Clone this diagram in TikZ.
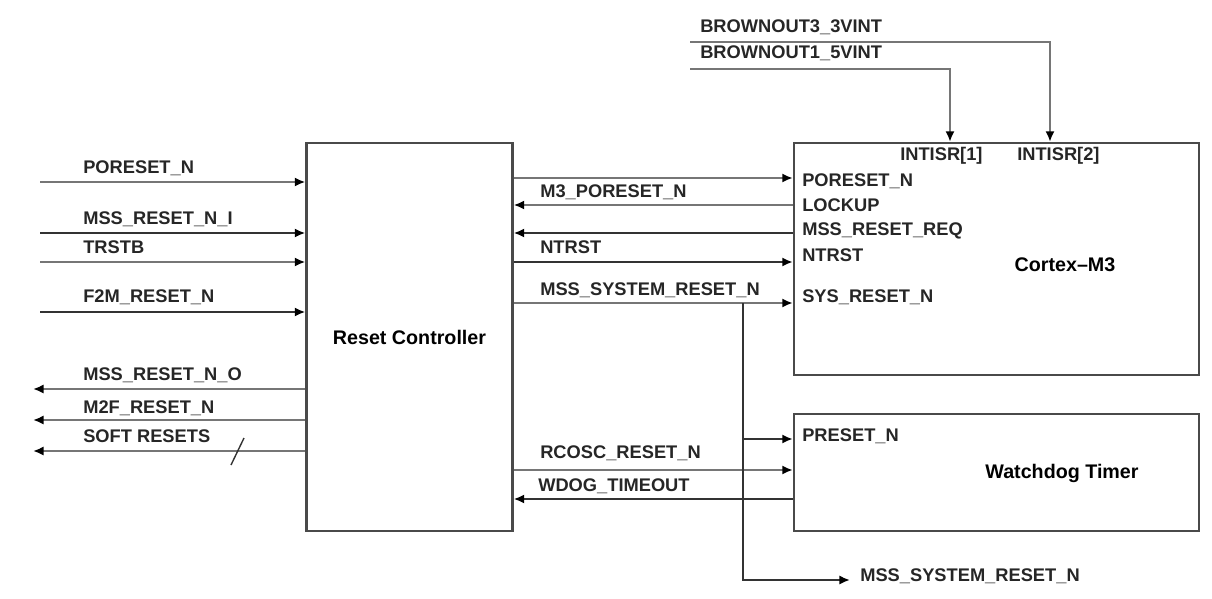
\documentclass[tikz,border=0pt]{standalone}
\usepackage{fontspec}
\setmainfont{Liberation Sans}
\usetikzlibrary{arrows.meta}
\definecolor{linegray}{HTML}{767676}
\definecolor{linedark}{HTML}{333333}
\definecolor{boxgray}{HTML}{4A4A4A}
\begin{document}
\begin{tikzpicture}[x=0.025cm,y=-0.025cm,
  >={Latex[length=7.5pt,width=6.5pt,color=black]},
  block/.style={draw=boxgray, line width=1.6pt, rectangle, inner sep=0pt},
  title/.style={inner sep=0pt, font=\fontsize{14}{16}\selectfont\bfseries},
  sig/.style={draw=linegray, line width=1.5pt},
  sigd/.style={draw=linedark, line width=1.5pt},
  lbl/.style={anchor=west, inner sep=0pt, text=black!85, font=\fontsize{13}{15}\selectfont\bfseries}]
\useasboundingbox (0,0) rectangle (1212,599);

% blocks
\node[block, minimum width=5.15cm, minimum height=9.7cm, font=\fontsize{14}{16}\selectfont\bfseries] (rc) at (409.5,337) {Reset Controller};
\node[block, minimum width=10.125cm, minimum height=5.8cm] (m3) at (996.5,259) {};
\node[block, minimum width=10.125cm, minimum height=2.925cm] (wd) at (996.5,472.5) {};
\node[title] (m3name) at (1065,265) {Cortex--M3};
\node[title] (wdname) at (1062,473) {Watchdog Timer};

% ports of the Cortex-M3 and the watchdog
\node[lbl] (pint1) at (900,156) {INTISR[1]};
\node[lbl] (pint2) at (1017,156) {INTISR[2]};
\node[lbl] (ppor) at (802,181) {PORESET\_N};
\node[lbl] (plock) at (802,205) {LOCKUP};
\node[lbl] (preq) at (802,231) {MSS\_RESET\_REQ};
\node[lbl] (pntrst) at (802,255) {NTRST};
\node[lbl] (psys) at (802,297) {SYS\_RESET\_N};
\node[lbl] (ppreset) at (802,436) {PRESET\_N};

% free ends
\coordinate (inpor) at (40,182);
\coordinate (inmss) at (40,233);
\coordinate (intrst) at (40,262);
\coordinate (inf2m) at (40,312);
\coordinate (outmss) at (33,389);
\coordinate (outm2f) at (33,420);
\coordinate (outsoft) at (33,451);
\coordinate (bo3) at (690,42);
\coordinate (bo1) at (690,69);
\coordinate (int1) at (950,0);
\coordinate (int2) at (1050,0);
\coordinate (ym3por) at (0,178);
\coordinate (ylock) at (0,205);
\coordinate (yreq) at (0,233);
\coordinate (yntrst) at (0,262);
\coordinate (ysys) at (0,303);
\coordinate (br) at (743,303);
\coordinate (brpre) at (743,439);
\coordinate (yrcosc) at (0,470);
\coordinate (ywdog) at (0,499);
\coordinate (outsys) at (850,580);

% inputs and outputs on the left
\draw[sig,->] (inpor) -- (inpor -| rc.west);
\draw[sigd,->] (inmss) -- (inmss -| rc.west);
\draw[sig,->] (intrst) -- (intrst -| rc.west);
\draw[sigd,->] (inf2m) -- (inf2m -| rc.west);
\draw[sig,->] (outmss -| rc.west) -- (outmss);
\draw[sig,->] (outm2f -| rc.west) -- (outm2f);
\draw[sig,->] (outsoft -| rc.west) -- (outsoft);
\draw[sigd, line width=1pt] (231,465) -- (244,438);

\node[lbl] (lpor) at (83,168) {PORESET\_N};
\node[lbl] (lmssi) at (83,219) {MSS\_RESET\_N\_I};
\node[lbl] (ltrst) at (83,247) {TRSTB};
\node[lbl] (lf2m) at (83,297) {F2M\_RESET\_N};
\node[lbl] (lmsso) at (83,375) {MSS\_RESET\_N\_O};
\node[lbl] (lm2f) at (83,408) {M2F\_RESET\_N};
\node[lbl] (lsoft) at (83,436) {SOFT RESETS};

% reset controller to Cortex-M3
\draw[sig,->] (ym3por -| rc.east) -- (ym3por -| m3.west);
\draw[sig,->] (ylock -| m3.west) -- (ylock -| rc.east);
\draw[sigd,->] (yreq -| m3.west) -- (yreq -| rc.east);
\draw[sigd,->] (yntrst -| rc.east) -- (yntrst -| m3.west);
\draw[sig,->] (ysys -| rc.east) -- (ysys -| m3.west);
\node[lbl] (lm3por) at (540,192) {M3\_PORESET\_N};
\node[lbl] (lntrst) at (540,247) {NTRST};
\node[lbl] (lsys) at (540,290) {MSS\_SYSTEM\_RESET\_N};

% brownout interrupts
\draw[sig,->] (bo3) -| (int2 |- m3.north);
\draw[sig,->] (bo1) -| (int1 |- m3.north);
\node[lbl] (lbo3) at (700,27) {BROWNOUT3\_3VINT};
\node[lbl] (lbo1) at (700,53) {BROWNOUT1\_5VINT};

% watchdog
\draw[sigd,->] (brpre) -- (brpre -| wd.west);
\draw[sig,->] (yrcosc -| rc.east) -- (yrcosc -| wd.west);
\draw[sigd,->] (ywdog -| wd.west) -- (ywdog -| rc.east);
\node[lbl] (lrcosc) at (540,453) {RCOSC\_RESET\_N};
\node[lbl] (lwdog) at (538,486) {WDOG\_TIMEOUT};

% system reset out
\draw[sigd,->] (br) |- (outsys);
\node[lbl] (lsysout) at (860,576) {MSS\_SYSTEM\_RESET\_N};
\end{tikzpicture}
\end{document}
